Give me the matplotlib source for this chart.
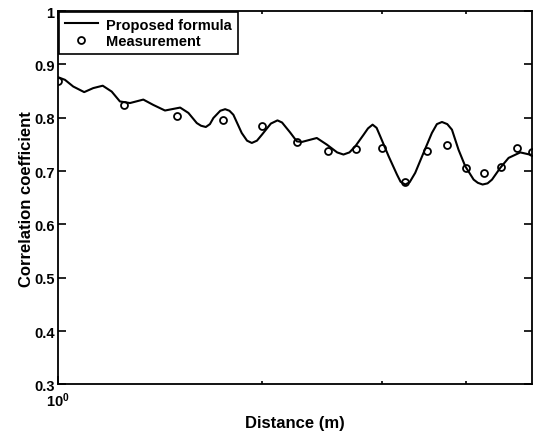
import numpy as np
import matplotlib.pyplot as plt
from matplotlib.ticker import FixedLocator, NullFormatter, LogFormatterSciNotation

plt.rcParams['font.family'] = ['Liberation Sans', 'DejaVu Sans']
plt.rcParams['font.weight'] = 'bold'
plt.rcParams['mathtext.default'] = 'bf'

# measured correlation, every 0.25 m
meas_x = [1.0, 1.25, 1.5, 1.75, 2.0, 2.25, 2.5, 2.75, 3.0, 3.25,
          3.5, 3.75, 4.0, 4.25, 4.5, 4.75, 5.0]
meas_y = [0.869, 0.824, 0.803, 0.795, 0.784, 0.754, 0.738, 0.741, 0.743, 0.680,
          0.738, 0.748, 0.706, 0.696, 0.707, 0.743, 0.736]

# proposed formula
model_x = [1.0, 1.024, 1.053, 1.093, 1.127, 1.164, 1.200, 1.234, 1.277, 1.336,
           1.382, 1.438, 1.514, 1.557, 1.602, 1.625, 1.652, 1.675, 1.695, 1.735,
           1.764, 1.79, 1.814, 1.866, 1.90, 1.931, 1.965, 1.998, 2.06, 2.107,
           2.14, 2.163, 2.199, 2.250, 2.289, 2.408, 2.492, 2.58, 2.636, 2.69,
           2.744, 2.822, 2.865, 2.910, 2.95, 2.987, 3.073, 3.161, 3.20, 3.251,
           3.30, 3.363, 3.459, 3.559, 3.62, 3.683, 3.75, 3.810, 3.896, 3.986,
           4.101, 4.16, 4.228, 4.30, 4.365, 4.489, 4.618, 4.805, 5.0]
model_y = [0.876, 0.871, 0.8585, 0.848, 0.8555, 0.860, 0.849, 0.8305, 0.8275, 0.834,
           0.824, 0.8135, 0.819, 0.809, 0.790, 0.785, 0.7826, 0.788, 0.7995, 0.813,
           0.816, 0.813, 0.8055, 0.7714, 0.757, 0.7527, 0.757, 0.768, 0.789, 0.795,
           0.791, 0.7837, 0.7725, 0.7557, 0.7546, 0.762, 0.7495, 0.735, 0.731, 0.735,
           0.7464, 0.768, 0.780, 0.787, 0.781, 0.765, 0.7277, 0.6935, 0.680, 0.6748,
           0.679, 0.6966, 0.734, 0.7714, 0.788, 0.792, 0.788, 0.7776, 0.740, 0.709,
           0.684, 0.678, 0.6748, 0.677, 0.684, 0.706, 0.7247, 0.735, 0.730]

y_ticks = [0.3, 0.4, 0.5, 0.6, 0.7, 0.8, 0.9, 1.0]
y_labels = ['0.3', '0.4', '0.5', '0.6', '0.7', '0.8', '0.9', '1']

fig = plt.figure(figsize=(5.35, 4.35), dpi=100)
ax = fig.add_axes([0.1084, 0.1138, 0.886, 0.8586])

ax.plot(model_x, model_y, color='black', lw=1.5, label='Proposed formula')
ax.plot(meas_x, meas_y, 'o', mfc='none', mec='black', mew=1.3, ms=5,
        label='Measurement')

ax.set_xscale('log')
ax.set_xlim(1, 5)
ax.set_ylim(0.3, 1.0)
ax.xaxis.set_major_locator(FixedLocator([1]))
ax.xaxis.set_major_formatter(LogFormatterSciNotation())
ax.xaxis.set_minor_locator(FixedLocator([2, 3, 4]))
ax.xaxis.set_minor_formatter(NullFormatter())
ax.set_yticks(y_ticks)
ax.set_yticklabels(y_labels)

ax.tick_params(which='both', direction='in', top=True, right=True,
               labelsize=10.5, width=1.2, pad=2.5)
ax.tick_params(axis='x', which='major', pad=4.5)
ax.tick_params(which='major', length=5.5)
ax.tick_params(which='minor', length=2.5)
for s in ax.spines.values():
    s.set_linewidth(1.3)

ax.set_xlabel('Distance (m)', fontsize=12, fontweight='bold', labelpad=4)
ax.set_ylabel('Correlation coefficient', fontsize=12, fontweight='bold',
              labelpad=0)

leg = ax.legend(loc='upper left', fontsize=10.5, fancybox=False, framealpha=1,
                edgecolor='black', borderaxespad=0.05, handlelength=2.3,
                handletextpad=0.55, borderpad=0.4, labelspacing=0.15)
leg.get_frame().set_linewidth(1.2)

fig.savefig('out.png', dpi=100)
